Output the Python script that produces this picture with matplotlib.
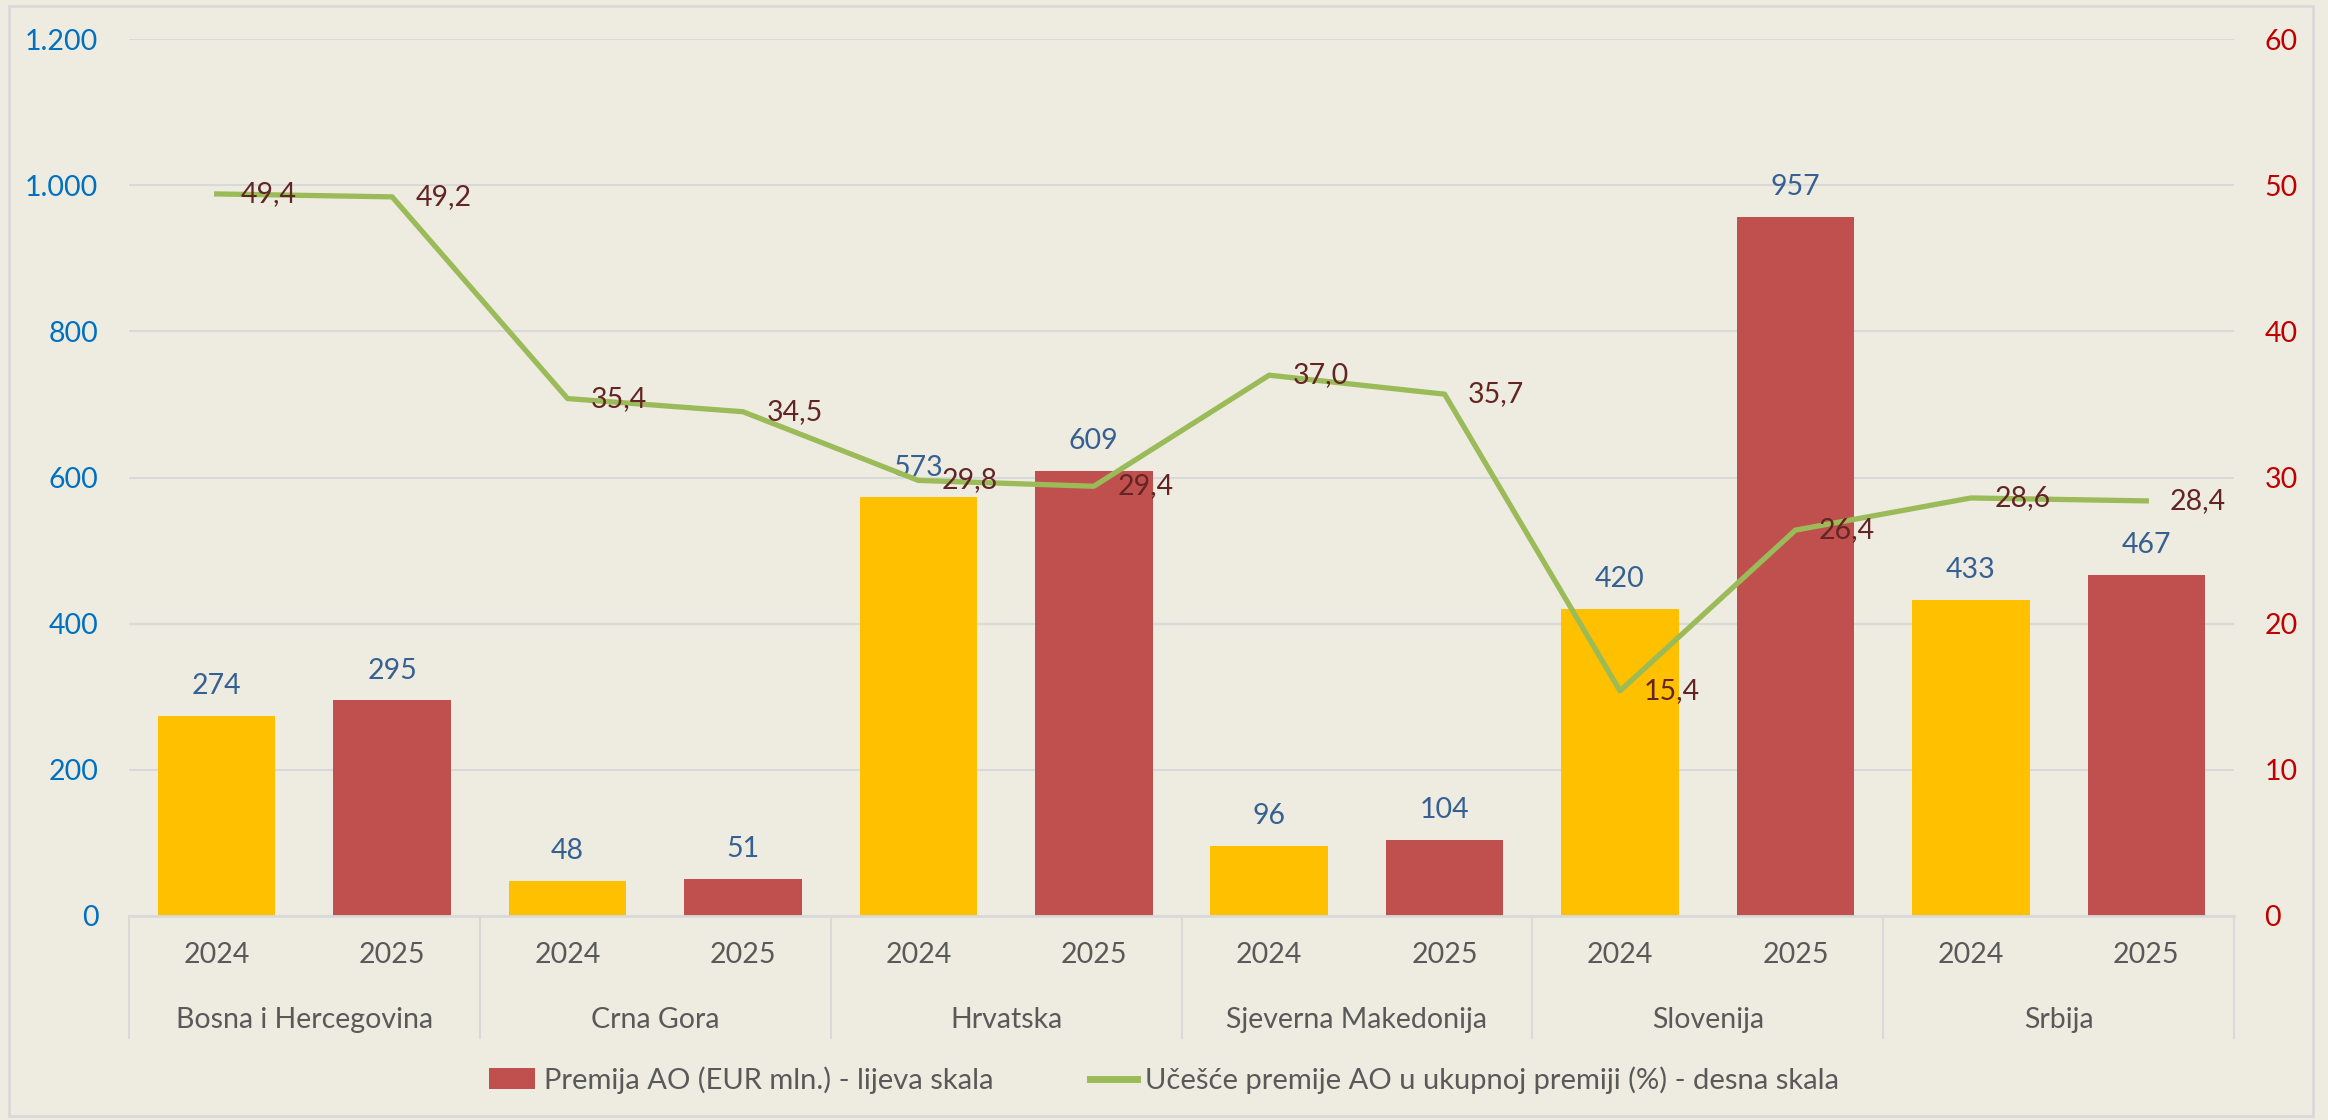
import matplotlib
matplotlib.use('Agg')
import matplotlib.pyplot as plt
import matplotlib.transforms as mtransforms
from matplotlib.patches import Rectangle, Patch
from matplotlib.lines import Line2D

plt.rcParams['font.family'] = ['Lato', 'DejaVu Sans']

# podaci
countries = ['Bosna i Hercegovina', 'Crna Gora', 'Hrvatska',
             'Sjeverna Makedonija', 'Slovenija', 'Srbija']
years = ['2024', '2025']
premija = [274, 295, 48, 51, 573, 609, 96, 104, 420, 957, 433, 467]
ucesce = [49.4, 49.2, 35.4, 34.5, 29.8, 29.4, 37.0, 35.7, 15.4, 26.4, 28.6, 28.4]

bg = '#EEECE1'
c_2024 = '#FFC000'
c_2025 = '#C0504D'
c_line = '#9BBB59'
grey_txt = '#595959'
fs = 20.5

fig = plt.figure(figsize=(23.28, 11.2), dpi=100, facecolor=bg)
ax = fig.add_axes([129 / 2328, 1 - 916 / 1120, (2234 - 129) / 2328, (916 - 39) / 1120])
ax.set_facecolor(bg)

x = list(range(len(premija)))
colors = [c_2024 if i % 2 == 0 else c_2025 for i in x]
bars = ax.bar(x, premija, width=0.67, color=colors, zorder=2)

ax.set_xlim(-0.5, len(premija) - 0.5)
ax.set_ylim(0, 1200)
ax.set_yticks(range(0, 1201, 200))
ax.set_yticklabels([f'{v:,}'.replace(',', '.') for v in range(0, 1201, 200)])
ax.tick_params(axis='y', length=0, pad=22, labelsize=fs, labelcolor='#0070C0')
ax.grid(axis='y', color='#D9D9D9', linewidth=1.5, zorder=0)
for s in ['top', 'left', 'right']:
    ax.spines[s].set_visible(False)
ax.spines['bottom'].set_color('#D9D9D9')
ax.spines['bottom'].set_linewidth(2)

for b, v in zip(bars, premija):
    ax.annotate(str(v), (b.get_x() + b.get_width() / 2, v), xytext=(0, 12),
                textcoords='offset points', ha='center', va='bottom',
                fontsize=fs, color='#366092')

# x osa - godine i zemlje
ax.set_xticks(x)
ax.set_xticklabels([years[i % 2] for i in x])
ax.tick_params(axis='x', length=0, pad=19, labelsize=fs, labelcolor=grey_txt)
trans = mtransforms.blended_transform_factory(ax.transData, ax.transAxes)
for g, name in enumerate(countries):
    ax.text(2 * g + 0.5, -0.1186, name, transform=trans, ha='center', va='center',
            fontsize=fs, color=grey_txt)
for g in range(len(countries) + 1):
    ax.plot([2 * g - 0.5, 2 * g - 0.5], [0, -0.139], transform=trans,
            color='#D9D9D9', linewidth=1.5, clip_on=False)

# desna osa
ax2 = ax.twinx()
ax2.set_ylim(0, 60)
ax2.set_yticks(range(0, 61, 10))
ax2.tick_params(axis='y', length=0, pad=22, labelsize=fs, labelcolor='#C00000')
for s in ['top', 'left', 'right', 'bottom']:
    ax2.spines[s].set_visible(False)
ax2.plot(x, ucesce, color=c_line, linewidth=3.8, zorder=3)
for xi, v in zip(x, ucesce):
    ax2.annotate(f'{v:.1f}'.replace('.', ','), (xi, v), xytext=(17, 0),
                 textcoords='offset points', ha='left', va='center',
                 fontsize=fs, color='#632523')

handles = [Patch(facecolor=c_2025),
           Line2D([0], [0], color=c_line, linewidth=5)]
labels = ['Premija AO (EUR mln.) - lijeva skala',
          'Učešće premije AO u ukupnoj premiji (%) - desna skala']
fig.legend(handles, labels, loc='center', bbox_to_anchor=(0.5, 1 - 1080 / 1120),
           ncol=2, frameon=False, fontsize=21, labelcolor=grey_txt,
           handlelength=1.6, handletextpad=0.3, columnspacing=3.3)

fig.add_artist(Rectangle((9 / 2328, 4 / 1120), (2313 - 9) / 2328, (1114 - 4) / 1120,
                         transform=fig.transFigure, fill=False,
                         edgecolor='#D9D9D9', linewidth=2))

fig.savefig('out.png', dpi=100, facecolor=bg)
